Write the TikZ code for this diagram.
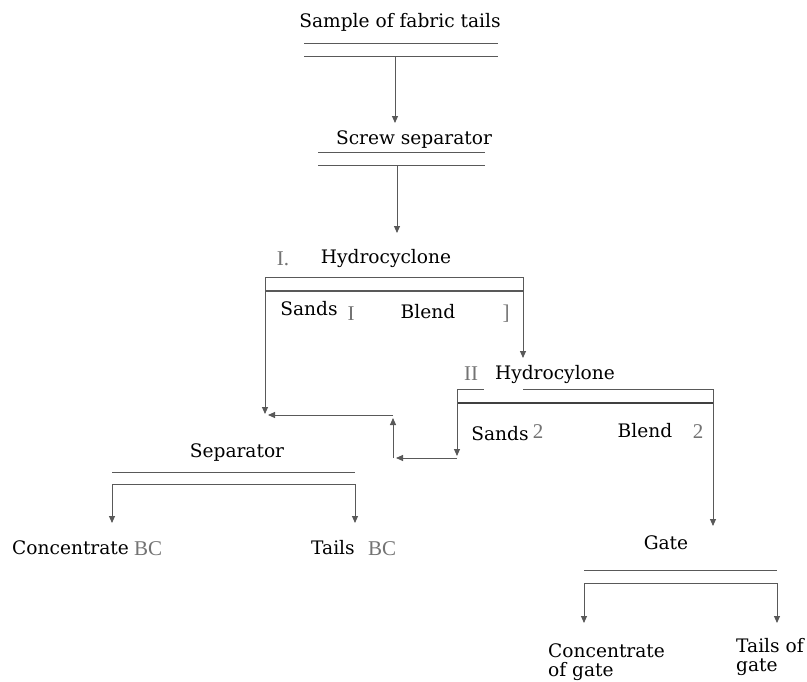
\documentclass[tikz,border=0pt]{standalone}
\usepackage{fontspec}
\setmainfont{DejaVu Serif}
\newfontfamily\numfont{Liberation Serif}
\usetikzlibrary{arrows.meta}
\begin{document}
\begin{tikzpicture}[x=1pt,y=-1pt,
  lbl/.style={font=\fontsize{18.6}{20}\selectfont, inner sep=0pt},
  num/.style={font=\numfont\fontsize{21}{23}\selectfont, text=black!55, inner sep=0pt},
  ln/.style={draw=black!65, line width=0.9pt},
  dk/.style={draw=black!75, line width=1.5pt},
  arr/.style={ln, -{Triangle[length=7pt,width=6pt]}},
]
\useasboundingbox[fill=white] (0,0) rectangle (807,681);

% ---- Sample of fabric tails
\node[lbl] (sample) at (400,22) {Sample of fabric tails};
\coordinate (s1) at (304,43); \coordinate (s2) at (498,43);
\coordinate (s3) at (304,56); \coordinate (s4) at (498,56);
\draw[ln] (s1) -- (s2) (s3) -- (s4);
\coordinate (s5) at (395,56); \coordinate (t1) at (395,123);
\draw[arr] (s5) -- (t1);

% ---- Screw separator
\node[lbl] (screw) at (414,140) {Screw separator};
\coordinate (c1) at (318,152); \coordinate (c2) at (485,152);
\coordinate (c3) at (318,165); \coordinate (c4) at (485,165);
\draw[ln] (c1) -- (c2) (c3) -- (c4);
\coordinate (c5) at (397,165); \coordinate (t2) at (397,233);
\draw[arr] (c5) -- (t2);

% ---- Hydrocyclone I
\node[num,anchor=base] (h1n) at (283,265) {I.};
\node[lbl] (hydro1) at (386,258) {Hydrocyclone};
\coordinate (h1a) at (265,277); \coordinate (h1b) at (523,277);
\coordinate (h1c) at (265,291); \coordinate (h1d) at (523,291);
\draw[ln] (h1a) -- (h1b);
\draw[ln,line width=1.2pt] (h1c) -- (h1d);
\coordinate (h1l) at (265,414); \coordinate (h1r) at (523,358);
\draw[arr] (h1a) -- (h1l);
\draw[arr] (h1b) -- (h1r);
\node[lbl] (sands1) at (309,309) {Sands};
\node[num] (sands1n) at (351,314) {I};
\node[lbl] (blend1) at (428,312) {Blend};
\node[num] (blend1n) at (506,314) {]};

% ---- Hydrocylone II
\node[num] (h2n) at (471,374) {II};
\node[lbl] (hydro2) at (555,374) {Hydrocylone};
\coordinate (h2a) at (457,389); \coordinate (h2g) at (484,389);
\coordinate (h2h) at (523,389); \coordinate (h2b) at (713,389);
\coordinate (h2c) at (457,403); \coordinate (h2d) at (713,403);
\draw[ln] (h2a) -- (h2g) (h2h) -- (h2b);
\draw[dk] (h2c) -- (h2d);
\node[lbl] (sands2) at (500,434) {Sands};
\node[num] (sands2n) at (538,432) {2};
\node[lbl] (blend2) at (645,431) {Blend};
\node[num] (blend2n) at (698,432) {2};

% ---- sands return path
\coordinate (m1) at (457,456); \coordinate (m2) at (396,458);
\coordinate (m3) at (393,458); \coordinate (m4) at (393,418);
\coordinate (m5) at (268,415); \coordinate (m6) at (457,458);
\coordinate (m7) at (393,415);
\draw[arr] (h2a) -- (m1);
\draw[arr] (m6) -- (m2);
\draw[arr] (m3) -- (m4);
\draw[arr] (m7) -- (m5);

% ---- Separator
\node[lbl] (sep) at (237,453) {Separator};
\coordinate (p1) at (112,472); \coordinate (p2) at (355,472);
\coordinate (p3) at (112,484); \coordinate (p4) at (355,484);
\draw[ln] (p1) -- (p2) (p3) -- (p4);
\coordinate (p5) at (112,523); \coordinate (p6) at (355,523);
\draw[arr] (p3) -- (p5);
\draw[arr] (p4) -- (p6);
\node[lbl,anchor=base west] (conc) at (12,554) {Concentrate};
\node[num,anchor=base west] (concn) at (134,555) {BC};
\node[lbl,anchor=base west] (tails) at (311,554) {Tails};
\node[num,anchor=base west] (tailsn) at (368,555) {BC};

% ---- Gate
\coordinate (g0) at (713,526);
\draw[arr] (h2b) -- (g0);
\node[lbl] (gate) at (666,543) {Gate};
\coordinate (g1) at (584,570); \coordinate (g2) at (777,570);
\coordinate (g3) at (584,583); \coordinate (g4) at (777,583);
\draw[ln] (g1) -- (g2) (g3) -- (g4);
\coordinate (g5) at (584,623); \coordinate (g6) at (777,623);
\draw[arr] (g3) -- (g5);
\draw[arr] (g4) -- (g6);
\node[lbl,anchor=north west,align=left] (cog) at (548,643) {Concentrate\\[-1pt]of gate};
\node[lbl,anchor=north west,align=left] (tog) at (736,638) {Tails of\\[-1pt]gate};
\end{tikzpicture}
\end{document}
